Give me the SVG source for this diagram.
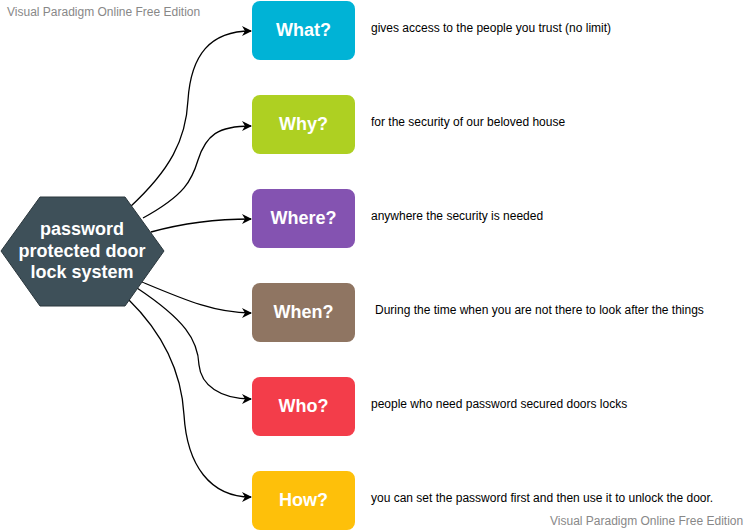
<svg xmlns="http://www.w3.org/2000/svg" width="749" height="531" viewBox="0 0 749 531">
<defs>
<marker id="arr" viewBox="0 0 10 10" refX="9" refY="5" markerWidth="10" markerHeight="10" markerUnits="userSpaceOnUse" orient="auto">
<path d="M0,0 L10,5 L0,10 L3,5 Z" fill="#000"/>
</marker>
<style>
.wm{font-family:"Liberation Sans",Arial,sans-serif;font-size:12px;fill:#888}
.box{stroke:none}
.lbl{font-family:"Liberation Sans",Arial,sans-serif;font-size:18px;font-weight:bold;fill:#fff;text-anchor:middle}
.desc{font-family:"Liberation Sans",Arial,sans-serif;font-size:12px;fill:#000}
.edge{fill:none;stroke:#000;stroke-width:1.3;marker-end:url(#arr)}
</style>
</defs>
<rect width="749" height="531" fill="#fff"/>
<text class="wm" x="7" y="16">Visual Paradigm Online Free Edition</text>
<text class="wm" x="550" y="525">Visual Paradigm Online Free Edition</text>
<g id="connectors">
<path class="edge" d="M130,207 C170,170 186,140 188,100 C191,55 210,31 251,31"/>
<path class="edge" d="M143,218 C185,195 192,180 198,160 C206,135 218,126 251,126"/>
<path class="edge" d="M151,232 C180,224 210,219 251,219"/>
<path class="edge" d="M142,282 C185,300 215,313 251,313"/>
<path class="edge" d="M137,288 C185,320 198,340 199,365 C201,385 220,399 251,399"/>
<path class="edge" d="M128,299 C170,340 182,380 184,415 C187,465 210,497 251,497"/>
</g>
<g id="center">
<polygon points="1,251 40,197 125,197 164,251 125,306 40,306" fill="#3E5059" stroke="#2a363c" stroke-width="1"/>
<text class="lbl" x="82" y="235">password</text>
<text class="lbl" x="82" y="257">protected door</text>
<text class="lbl" x="82" y="278">lock system</text>
</g>
<g id="what">
<rect class="box" x="252" y="1" width="103" height="59" rx="8" fill="#00B3D6"/>
<text class="lbl" x="303.5" y="36">What?</text>
<text class="desc" x="371" y="32">gives access to the people you trust (no limit)</text>
</g>
<g id="why">
<rect class="box" x="252" y="95" width="103" height="59" rx="8" fill="#AED022"/>
<text class="lbl" x="303.5" y="130">Why?</text>
<text class="desc" x="371" y="126">for the security of our beloved house</text>
</g>
<g id="where">
<rect class="box" x="252" y="189" width="103" height="59" rx="8" fill="#8453B1"/>
<text class="lbl" x="303.5" y="224">Where?</text>
<text class="desc" x="371" y="220">anywhere the security is needed</text>
</g>
<g id="when">
<rect class="box" x="252" y="283" width="103" height="59" rx="8" fill="#8F7562"/>
<text class="lbl" x="303.5" y="318">When?</text>
<text class="desc" x="375" y="314">During the time when you are not there to look after the things</text>
</g>
<g id="who">
<rect class="box" x="252" y="377" width="103" height="59" rx="8" fill="#F33D4A"/>
<text class="lbl" x="303.5" y="412">Who?</text>
<text class="desc" x="371" y="408">people who need password secured doors locks</text>
</g>
<g id="how">
<rect class="box" x="252" y="471" width="103" height="59" rx="8" fill="#FEC00A"/>
<text class="lbl" x="303.5" y="506">How?</text>
<text class="desc" x="371" y="502">you can set the password first and then use it to unlock the door.</text>
</g>
</svg>
